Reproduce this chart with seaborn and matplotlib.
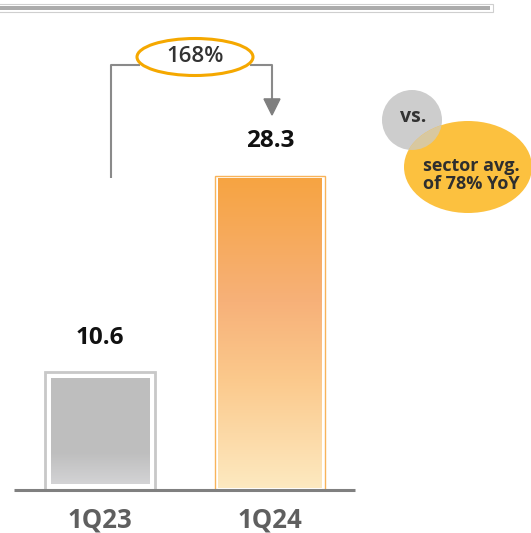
import matplotlib
matplotlib.use("Agg")
import matplotlib.pyplot as plt
import seaborn as sns
import numpy as np
import pandas as pd
from matplotlib.patches import Rectangle, Ellipse, Circle, Polygon
from matplotlib.colors import LinearSegmentedColormap

# Data
quarters = ["1Q23", "1Q24"]
revenue = [10.6, 28.3]
value_labels = ["10.6", "28.3"]
growth_label = "168%"
peer_text = ["vs.", "sector avg.\nof 78% YoY"]

sns.set_theme(style="white")
plt.rcParams["font.family"] = ["Open Sans", "DejaVu Sans"]

W, H = 531, 533
fig = plt.figure(figsize=(W / 100, H / 100), dpi=100)
fig.patch.set_facecolor("white")

# Main axes spans the figure; limits chosen so 1 category = 170 px, 1 unit = 11.1 px
PX_X, PX_Y = 170.0, 11.1
X0_PX, BASE_PX = 100.0, 43.0
ax = fig.add_axes([0, 0, 1, 1])
df = pd.DataFrame({"quarter": quarters, "value": revenue})
sns.barplot(data=df, x="quarter", y="value", width=110 / PX_X, ax=ax,
            color="white", saturation=1, zorder=2)

xlim = (-X0_PX / PX_X, (W - X0_PX) / PX_X)
ylim = (-BASE_PX / PX_Y, (H - BASE_PX) / PX_Y)

gray_cmap = LinearSegmentedColormap.from_list(
    "g", [(0, "#d3d3d5"), (0.3, "#bebebe"), (1, "#bfbfbf")])
orange_cmap = LinearSegmentedColormap.from_list(
    "o", [(0, "#fde9c0"), (0.35, "#fbc98c"), (0.6, "#f7b179"), (1, "#f6a442")])
styles = [
    dict(cmap=gray_cmap, edge="#c8c8c8", lw=2.0, inset=6, bottom=6),
    dict(cmap=orange_cmap, edge="#f8b35a", lw=1.0, inset=3, bottom=2),
]

grad = np.linspace(0, 1, 256).reshape(-1, 1)
for patch, st in zip(ax.patches, styles):
    x, w, h = patch.get_x(), patch.get_width(), patch.get_height()
    patch.set_facecolor("none")
    patch.set_edgecolor(st["edge"])
    patch.set_linewidth(st["lw"])
    dx = st["inset"] / PX_X
    dy = st["inset"] / PX_Y
    db = st["bottom"] / PX_Y
    ax.imshow(grad, extent=[x + dx, x + w - dx, db, h - dy], origin="lower",
              aspect="auto", cmap=st["cmap"], zorder=1, interpolation="bicubic")

# Value labels
for i, (v, lab) in enumerate(zip(revenue, value_labels)):
    ax.text(i, v + 3.1, lab, ha="center", va="center", fontsize=17.5,
            fontweight="bold", color="#111111")

# Category labels
for i, q in enumerate(quarters):
    ax.text(i, -2.7, q, ha="center", va="center", fontsize=18.5,
            fontweight="bold", color="#5f5f5f")

# Baseline
ax.hlines(0, (14 - X0_PX) / PX_X, (355 - X0_PX) / PX_X, color="#808080",
          lw=2.2, zorder=3)

# Growth bracket from the 1Q23 side to the 1Q24 bar
top = (490 - 65) / PX_Y
xl = (111 - X0_PX) / PX_X
xr = (272 - X0_PX) / PX_X
ax.plot([xl, xl, (140 - X0_PX) / PX_X], [revenue[1] - 0.2, top, top],
        color="#8a8a8a", lw=1.5, solid_capstyle="butt", zorder=3)
tip = (490 - 115) / PX_Y
ax.plot([(250 - X0_PX) / PX_X, xr, xr], [top, top, tip + 1.3],
        color="#8a8a8a", lw=1.5, solid_capstyle="butt", zorder=3)
ax.add_patch(Polygon([[xr - 8 / PX_X, tip + 1.45], [xr + 8 / PX_X, tip + 1.45],
                      [xr, tip]], closed=True, color="#7f7f7f", zorder=3))
ecx = (195 - X0_PX) / PX_X
ecy = (490 - 57) / PX_Y
ax.add_patch(Ellipse((ecx, ecy), 116 / PX_X, 37 / PX_Y, facecolor="white",
                     edgecolor="#f5a800", lw=2.2, zorder=4))
ax.text(ecx, ecy + 0.05, growth_label, ha="center", va="center", fontsize=16,
        fontweight="semibold", color="#333333", zorder=5)

ax.set_xlim(*xlim)
ax.set_ylim(*ylim)
ax.axis("off")

# Overlay in pixel coordinates for the header rule and peer comparison bubbles
ov = fig.add_axes([0, 0, 1, 1], facecolor="none")
ov.set_xlim(0, W)
ov.set_ylim(H, 0)
ov.axis("off")

ov.add_patch(Rectangle((-5, 3.5), 498, 8.5, facecolor="white",
                       edgecolor="#cfcfcf", lw=0.8))
ov.add_patch(Rectangle((-5, 6), 495, 4, facecolor="#ababab", edgecolor="none"))

gray_c = Circle((412, 120), 30, facecolor="#cdcdcd", edgecolor="none", zorder=2)
yellow_e = Ellipse((468, 167), 128, 92, facecolor="#fcc13f", edgecolor="none",
                   zorder=3)
ov.add_patch(gray_c)
ov.add_patch(yellow_e)
lens = Circle((412, 120), 30, facecolor="#d8c8a0", edgecolor="none", zorder=4)
ov.add_patch(lens)
lens.set_clip_path(yellow_e)

ov.text(413, 117, peer_text[0], ha="center", va="center", fontsize=14,
        fontweight="bold", color="#333333", zorder=5)
ov.text(471, 175, peer_text[1], ha="center", va="center", fontsize=13,
        fontweight="bold", color="#2e2e2e", linespacing=1.0, zorder=5)

fig.savefig("out.png", dpi=100)
